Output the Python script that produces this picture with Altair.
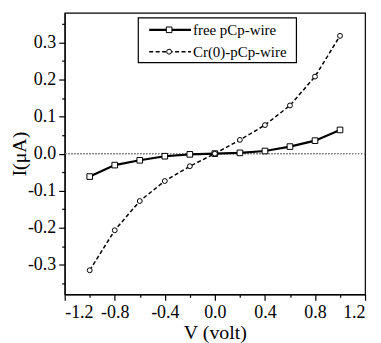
import altair as alt
import pandas as pd

volts = [-1.0, -0.8, -0.6, -0.4, -0.2, 0.0, 0.2, 0.4, 0.6, 0.8, 1.0]
free_current = [-0.062, -0.031, -0.018, -0.007, -0.002, 0.0, 0.002, 0.007, 0.019, 0.035, 0.064]
cr_current = [-0.315, -0.207, -0.128, -0.074, -0.034, 0.0, 0.037, 0.077, 0.130, 0.208, 0.318]
series_names = ["free pCp-wire", "Cr(0)-pCp-wire"]
x_major = [-1.2, -0.8, -0.4, 0.0, 0.4, 0.8, 1.2]
x_minor = [-1.0, -0.6, -0.2, 0.2, 0.6, 1.0]
y_major = [-0.3, -0.2, -0.1, 0.0, 0.1, 0.2, 0.3]
y_minor = [-0.35, -0.25, -0.15, -0.05, 0.05, 0.15, 0.25, 0.35]

FONT = "Liberation Serif"
LABEL_EXPR = "(datum.value < -0.0001 ? '-' : '') + format(abs(datum.value), '.1f')"

free_df = pd.DataFrame({"V": volts, "I": free_current, "series": series_names[0]})
cr_df = pd.DataFrame({"V": volts, "I": cr_current, "series": series_names[1]})
all_df = pd.concat([free_df, cr_df])

xscale = alt.Scale(domain=[-1.2, 1.2], nice=False, zero=False)
yscale = alt.Scale(domain=[-0.38, 0.38], nice=False, zero=False)

major_x_axis = alt.Axis(values=x_major, labelExpr=LABEL_EXPR, title="V (volt)", tickSize=6,
                        labelPadding=3, titlePadding=1, grid=False, orient="bottom",
                        titleFontWeight=400, titleFont=FONT, labelFont=FONT,
                        titleFontSize=20, labelFontSize=18)
major_y_axis = alt.Axis(values=y_major, labelExpr=LABEL_EXPR, title="I(\u03bcA)", tickSize=6,
                        labelPadding=3, titlePadding=-2, grid=False, orient="left",
                        titleFontWeight=400, titleFont=FONT, labelFont=FONT,
                        titleFontSize=20, labelFontSize=18)
minor_x_axis = alt.Axis(values=x_minor, labels=False, title=None, tickSize=3,
                        domain=False, grid=False, orient="bottom")
minor_y_axis = alt.Axis(values=y_minor, labels=False, title=None, tickSize=3,
                        domain=False, grid=False, orient="left")

zero_line = alt.Chart(free_df).mark_rule(color="#888888", strokeDash=[1, 2], strokeWidth=1).encode(
    y=alt.YDatum(0, axis=None, scale=yscale)
)

minor = alt.Chart(all_df).mark_point(opacity=0).encode(
    x=alt.X("V:Q", scale=xscale, axis=minor_x_axis),
    y=alt.Y("I:Q", scale=yscale, axis=minor_y_axis),
)

free_line = alt.Chart(free_df).mark_line(color="black", strokeWidth=2.2).encode(
    x=alt.X("V:Q", scale=xscale, axis=major_x_axis),
    y=alt.Y("I:Q", scale=yscale, axis=major_y_axis),
)
cr_line = alt.Chart(cr_df).mark_line(color="black", strokeWidth=1.5, strokeDash=[4, 2.5]).encode(
    x=alt.X("V:Q", scale=xscale, axis=None),
    y=alt.Y("I:Q", scale=yscale, axis=None),
)
free_pts = alt.Chart(free_df).mark_point(shape="square", size=32, filled=True, fill="white",
                                         stroke="black", strokeWidth=1, opacity=1).encode(
    x=alt.X("V:Q", scale=xscale, axis=None),
    y=alt.Y("I:Q", scale=yscale, axis=None),
)
cr_pts = alt.Chart(cr_df).mark_point(shape="circle", size=24, filled=True, fill="white",
                                     stroke="black", strokeWidth=1, opacity=1).encode(
    x=alt.X("V:Q", scale=xscale, axis=None),
    y=alt.Y("I:Q", scale=yscale, axis=None),
)

# legend (pixel positions inside the plot area)
leg_df = pd.DataFrame({"name": [series_names[0]]})
leg_box = alt.Chart(leg_df).mark_rect(fill="white", stroke="black", strokeWidth=1.2).encode(
    x=alt.value(74), x2=alt.value(233), y=alt.value(5), y2=alt.value(50)
)
row1_y, row2_y = 17, 39
leg_line1 = alt.Chart(leg_df).mark_rule(color="black", strokeWidth=2.2).encode(
    x=alt.value(85), x2=alt.value(127), y=alt.value(row1_y)
)
leg_line2 = alt.Chart(leg_df).mark_rule(color="black", strokeWidth=1.5, strokeDash=[4, 2.5]).encode(
    x=alt.value(85), x2=alt.value(127), y=alt.value(row2_y)
)
leg_pt1 = alt.Chart(leg_df).mark_point(shape="square", size=32, filled=True, fill="white",
                                       stroke="black", strokeWidth=1, opacity=1).encode(
    x=alt.value(105), y=alt.value(row1_y)
)
leg_pt2 = alt.Chart(leg_df).mark_point(shape="circle", size=24, filled=True, fill="white",
                                       stroke="black", strokeWidth=1, opacity=1).encode(
    x=alt.value(105), y=alt.value(row2_y)
)
leg_txt1 = alt.Chart(pd.DataFrame({"name": [series_names[0]]})).mark_text(
    align="left", baseline="middle", font=FONT, fontSize=15, color="black").encode(
    x=alt.value(129), y=alt.value(row1_y), text="name:N"
)
leg_txt2 = alt.Chart(pd.DataFrame({"name": [series_names[1]]})).mark_text(
    align="left", baseline="middle", font=FONT, fontSize=15, color="black").encode(
    x=alt.value(129), y=alt.value(row2_y), text="name:N"
)

chart = alt.layer(
    zero_line, minor, free_line, cr_line, free_pts, cr_pts,
    leg_box, leg_line1, leg_line2, leg_pt1, leg_pt2, leg_txt1, leg_txt2
).resolve_axis(x="independent", y="independent").properties(
    width=302, height=283,
    background="white",
    autosize=alt.AutoSizeParams(type="none"),
    padding={"left": 57, "top": 4, "right": 8, "bottom": 48},
).configure_view(stroke="black", strokeWidth=1.2).configure_axis(
    labelFont=FONT, titleFont=FONT,
    labelColor="black", titleColor="black", domainColor="black", tickColor="black",
    titleFontWeight=400, domainWidth=1.2, tickWidth=1.2,
)

chart.save("out.html", embed_options={"renderer": "svg", "actions": False})
